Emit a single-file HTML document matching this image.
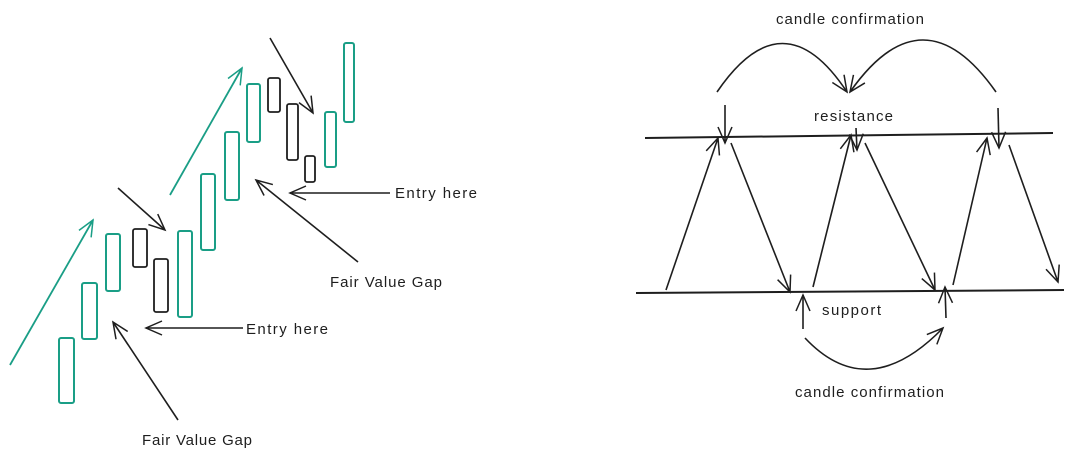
<!DOCTYPE html>
<html><head><meta charset="utf-8"><style>
html,body{margin:0;padding:0;background:#fff;}
svg{display:block;}
text{font-family:"Liberation Sans",sans-serif;font-size:15px;fill:#1e1e1e;}
</style></head><body>
<svg width="1074" height="462" viewBox="0 0 1074 462" xmlns="http://www.w3.org/2000/svg">
<defs>
<marker id="a" viewBox="0 0 20 20" refX="18" refY="10" markerWidth="20" markerHeight="20" markerUnits="userSpaceOnUse" orient="auto">
<path d="M2,3 L18,10 L2,17" fill="none" stroke="#1e1e1e" stroke-width="1.5"/>
</marker>
<marker id="g" viewBox="0 0 20 20" refX="18" refY="10" markerWidth="20" markerHeight="20" markerUnits="userSpaceOnUse" orient="auto">
<path d="M2,3 L18,10 L2,17" fill="none" stroke="#1a9e86" stroke-width="1.5"/>
</marker>
</defs>
<g fill="none" stroke="#1a9e86" stroke-width="2">
<rect x="59" y="338" width="15" height="65" rx="2"/>
<rect x="82" y="283" width="15" height="56" rx="2"/>
<rect x="106" y="234" width="14" height="57" rx="2"/>
<rect x="178" y="231" width="14" height="86" rx="2"/>
<rect x="201" y="174" width="14" height="76" rx="2"/>
<rect x="225" y="132" width="14" height="68" rx="2"/>
<rect x="247" y="84" width="13" height="58" rx="2"/>
<rect x="325" y="112" width="11" height="55" rx="2"/>
<rect x="344" y="43" width="10" height="79" rx="2"/>
<line x1="10" y1="365" x2="93" y2="220" marker-end="url(#g)" stroke-width="1.8"/>
<line x1="170" y1="195" x2="242" y2="68" marker-end="url(#g)" stroke-width="1.8"/>
</g>
<g fill="none" stroke="#1e1e1e" stroke-width="1.8">
<rect x="133" y="229" width="14" height="38" rx="2"/>
<rect x="154" y="259" width="14" height="53" rx="2"/>
<rect x="268" y="78" width="12" height="34" rx="2"/>
<rect x="287" y="104" width="11" height="56" rx="2"/>
<rect x="305" y="156" width="10" height="26" rx="2"/>
</g>
<g fill="none" stroke="#1e1e1e" stroke-width="1.6">
<line x1="118" y1="188" x2="165" y2="230" marker-end="url(#a)"/>
<line x1="270" y1="38" x2="313" y2="113" marker-end="url(#a)"/>
<line x1="178" y1="420" x2="113" y2="322" marker-end="url(#a)"/>
<line x1="243" y1="328" x2="146" y2="328" marker-end="url(#a)"/>
<line x1="390" y1="193" x2="290" y2="193" marker-end="url(#a)"/>
<line x1="358" y1="262" x2="256" y2="180" marker-end="url(#a)"/>

<line x1="645" y1="138" x2="1053" y2="133" stroke-width="2"/>
<line x1="636" y1="293" x2="1064" y2="290" stroke-width="2"/>
<path d="M717,92 Q783,-5 847,92" marker-end="url(#a)"/>
<path d="M996,92 Q923,-12 850,92" marker-end="url(#a)"/>
<line x1="725" y1="105" x2="725" y2="143" marker-end="url(#a)"/>
<line x1="856" y1="128" x2="857" y2="150" marker-end="url(#a)"/>
<line x1="998" y1="108" x2="999" y2="148" marker-end="url(#a)"/>
<line x1="666" y1="290" x2="718" y2="138" marker-end="url(#a)"/>
<line x1="731" y1="143" x2="790" y2="292" marker-end="url(#a)"/>
<line x1="813" y1="287" x2="851" y2="135" marker-end="url(#a)"/>
<line x1="865" y1="143" x2="935" y2="290" marker-end="url(#a)"/>
<line x1="953" y1="285" x2="987" y2="138" marker-end="url(#a)"/>
<line x1="1009" y1="145" x2="1058" y2="282" marker-end="url(#a)"/>
<line x1="803" y1="329" x2="803" y2="295" marker-end="url(#a)"/>
<line x1="946" y1="318" x2="945" y2="287" marker-end="url(#a)"/>
<path d="M805,338 Q868,405 943,328" marker-end="url(#a)"/>
</g>
<text x="142" y="445" textLength="110">Fair Value Gap</text>
<text x="246" y="334" textLength="82">Entry here</text>
<text x="395" y="198" textLength="82">Entry here</text>
<text x="330" y="287" textLength="112">Fair Value Gap</text>
<text x="776" y="24" textLength="148">candle confirmation</text>
<text x="814" y="121" textLength="79">resistance</text>
<text x="822" y="315" textLength="59">support</text>
<text x="795" y="397" textLength="149">candle confirmation</text>
</svg>
</body></html>
